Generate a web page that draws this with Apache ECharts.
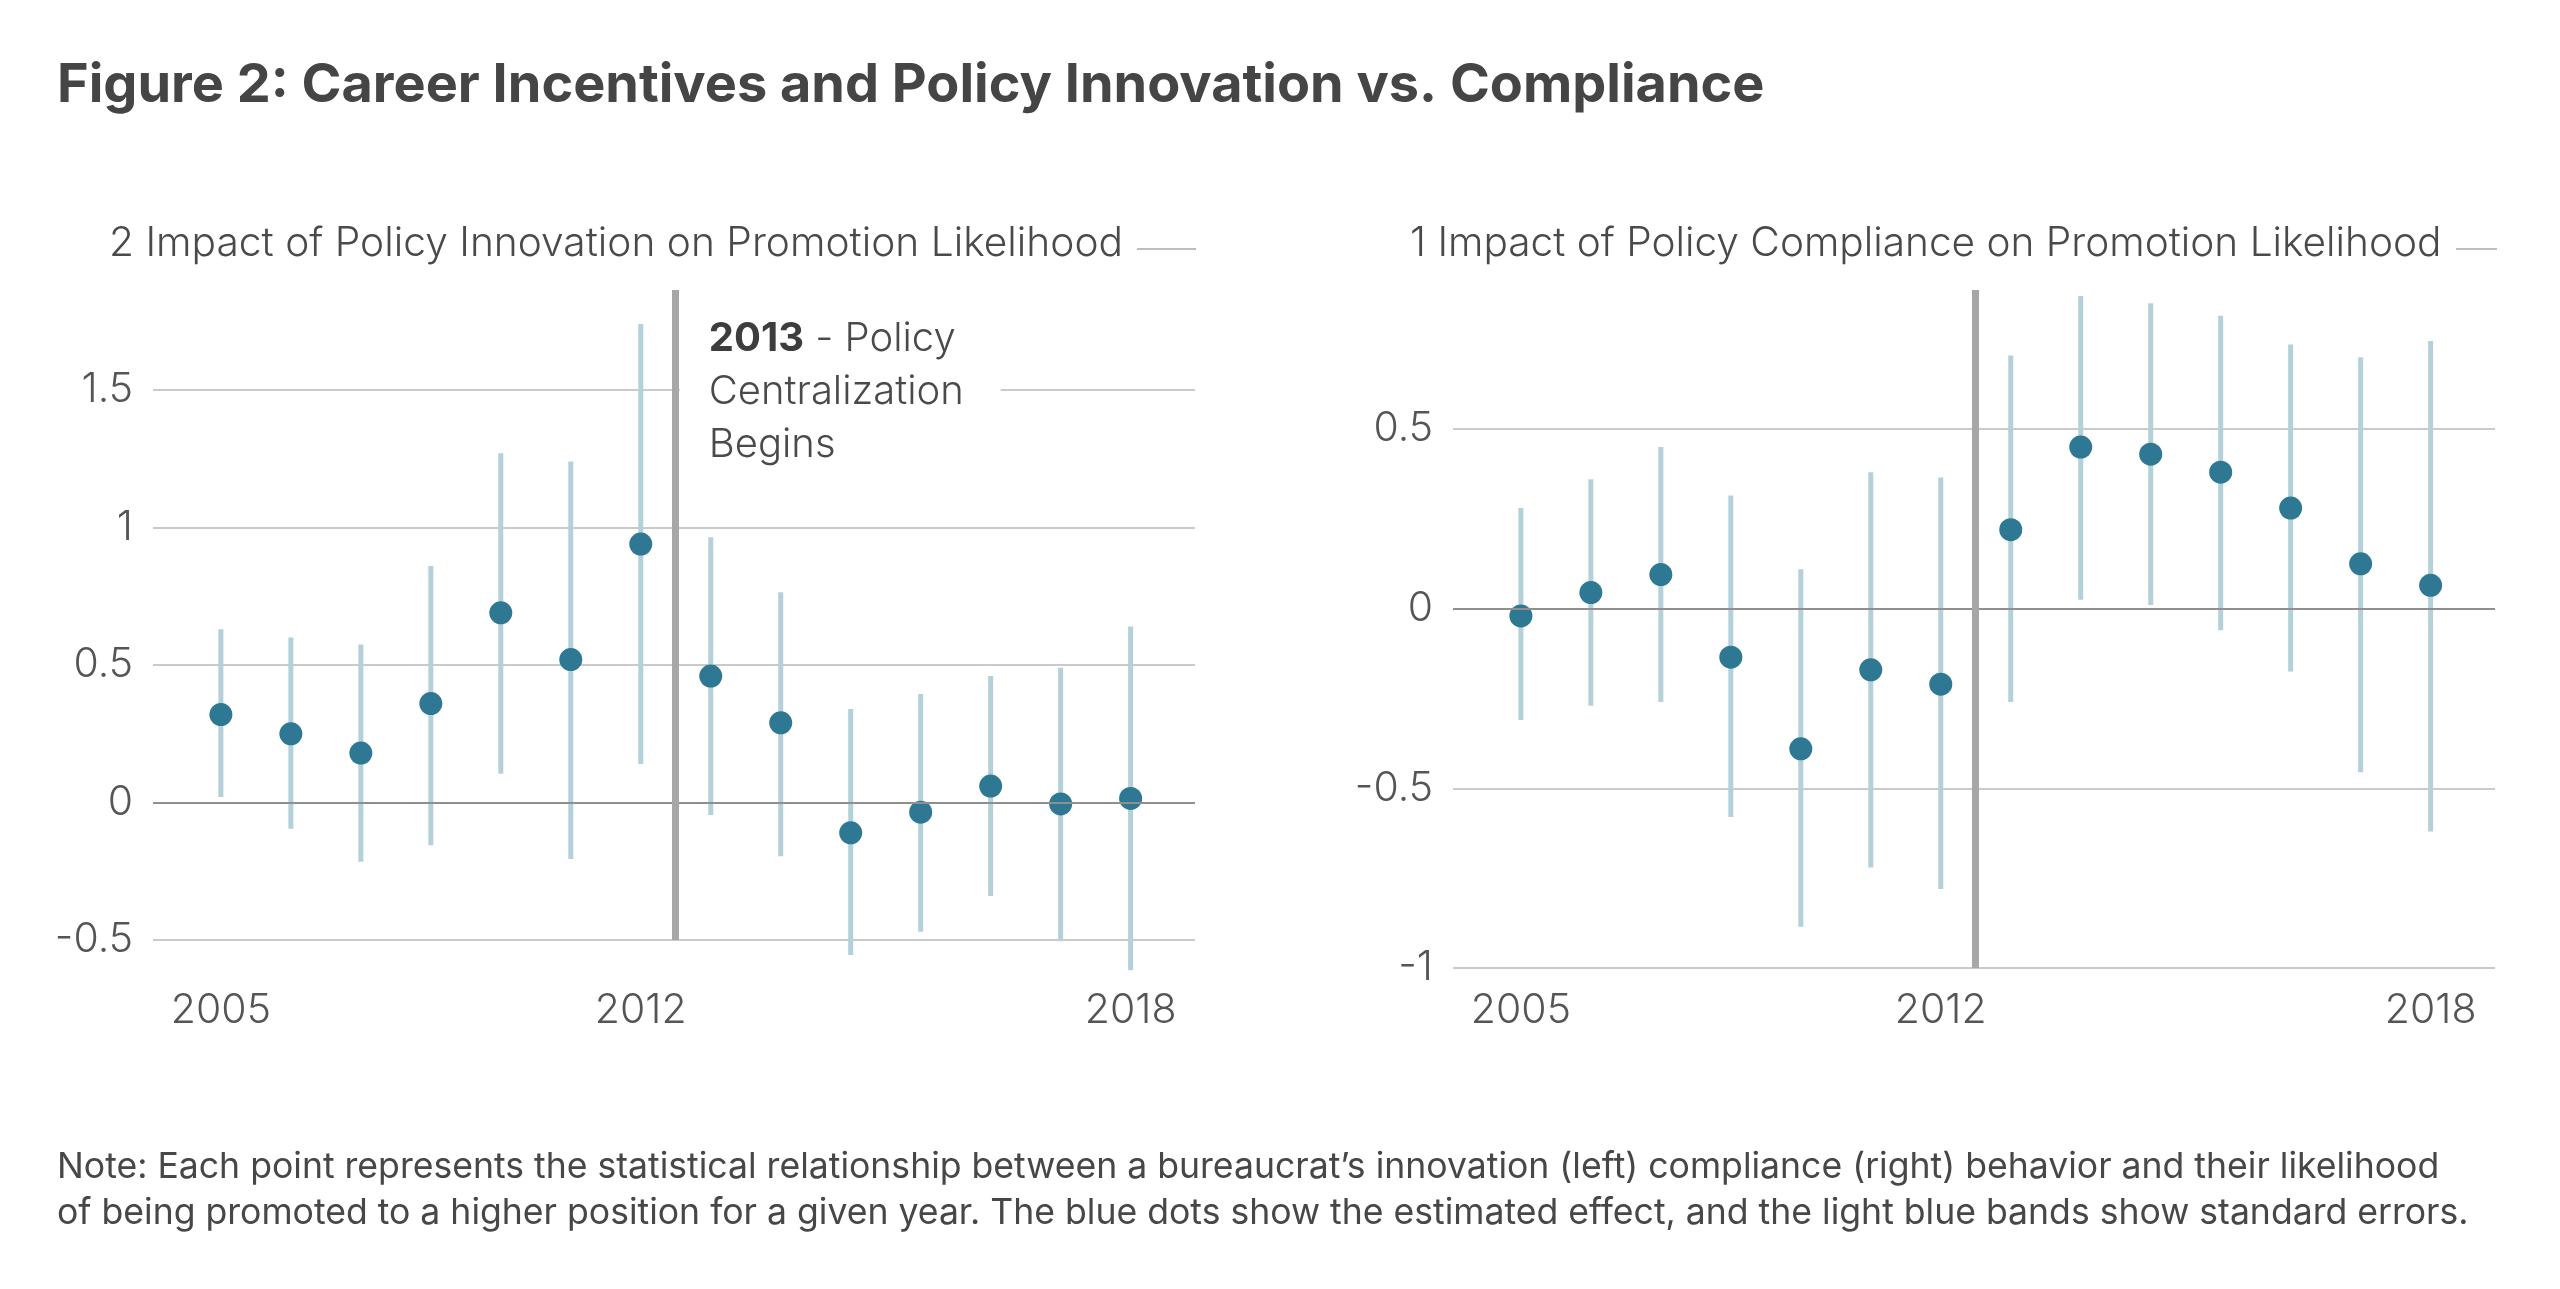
<!DOCTYPE html>
<html>
<head>
<meta charset="utf-8">
<script src="https://cdn.jsdelivr.net/npm/echarts@6/dist/echarts.min.js"></script>
<style>
html,body{margin:0;padding:0;background:#ffffff;}
#chart{width:2560px;height:1289px;}
</style>
</head>
<body>
<div id="chart"></div>
<script>
// ---------- data ----------
const years = [2005, 2006, 2007, 2008, 2009, 2010, 2011, 2012, 2013, 2014, 2015, 2016, 2017, 2018];

// Left panel: impact of policy innovation
const innovEst = [0.32, 0.25, 0.18, 0.36, 0.69, 0.52, 0.94, 0.46, 0.29, -0.11, -0.035, 0.06, -0.005, 0.015];
const innovLo  = [0.02, -0.095, -0.215, -0.155, 0.105, -0.205, 0.14, -0.045, -0.195, -0.555, -0.47, -0.34, -0.505, -0.61];
const innovHi  = [0.63, 0.60, 0.575, 0.86, 1.27, 1.24, 1.74, 0.965, 0.765, 0.34, 0.395, 0.46, 0.49, 0.64];

// Right panel: impact of policy compliance
const complEst = [-0.02, 0.045, 0.095, -0.135, -0.39, -0.17, -0.21, 0.22, 0.45, 0.43, 0.38, 0.28, 0.125, 0.065];
const complLo  = [-0.31, -0.27, -0.26, -0.58, -0.885, -0.72, -0.78, -0.26, 0.025, 0.01, -0.06, -0.175, -0.455, -0.62];
const complHi  = [0.28, 0.36, 0.45, 0.315, 0.11, 0.38, 0.365, 0.705, 0.87, 0.85, 0.815, 0.735, 0.70, 0.745];

// tick labels
const xTickYears  = [2005, 2011, 2018];
const xTickLabels = ['2005', '2012', '2018'];
const innovYRange = [-0.5, 1.864];
const complYRange = [-1, 0.887];
const yStep = 0.5;
const breakAt = 2011.5;   // vertical reference line

const titleText = 'Figure 2: Career Incentives and Policy Innovation vs. Compliance';
const leftTitle = '2 Impact of Policy Innovation on Promotion Likelihood';
const rightTitle = '1 Impact of Policy Compliance on Promotion Likelihood';
const noteLines = [
  'Note: Each point represents the statistical relationship between a bureaucrat\u2019s innovation (left) compliance (right) behavior and their likelihood',
  'of being promoted to a higher position for a given year. The blue dots show the estimated effect, and the light blue bands show standard errors.'
];

// ---------- styles ----------
const FONT = 'Inter, "Open Sans", Lato, sans-serif';
const DOT = '#2e7893';
const BAR = '#b4d1da';
const GRID = '#cacaca';
const ZERO = '#8f8f8f';
const VLINE = '#a7a7a7';
const TXT = '#4a4a4a';

const chart = echarts.init(document.getElementById('chart'), null, {renderer: 'canvas'});

function xAxisCfg(gi, margin) {
  return {
    type: 'value', gridIndex: gi, min: 2004.03, max: 2018.92,
    axisLine: {show: false}, axisTick: {show: false}, splitLine: {show: false},
    axisLabel: {
      customValues: xTickYears,
      formatter: v => { const i = xTickYears.indexOf(v); return i >= 0 ? xTickLabels[i] : ''; },
      margin: margin, fontFamily: FONT, fontWeight: 300, fontSize: 41, color: '#555'
    }
  };
}
function yAxisCfg(gi, range) {
  return {
    type: 'value', gridIndex: gi, min: range[0], max: range[1], interval: yStep,
    axisLine: {show: false}, axisTick: {show: false},
    splitLine: {show: true, showMaxLine: false, lineStyle: {color: GRID, width: 2}},
    axisLabel: {
      showMaxLabel: false, margin: 20,
      formatter: v => (Math.abs(v / yStep - Math.round(v / yStep)) < 1e-6 ? String(v) : ''),
      fontFamily: FONT, fontWeight: 300, fontSize: 41, color: '#555'
    }
  };
}
function errorSeries(gi, lo, hi) {
  return {
    type: 'custom', xAxisIndex: gi, yAxisIndex: gi, z: 3, clip: false,
    data: years.map((y, i) => [y, lo[i], hi[i]]),
    encode: {x: 0, y: [1, 2]},
    renderItem: (params, api) => {
      const a = api.coord([api.value(0), api.value(1)]);
      const b = api.coord([api.value(0), api.value(2)]);
      return {type: 'line', shape: {x1: a[0], y1: a[1], x2: b[0], y2: b[1]},
              style: {stroke: BAR, lineWidth: 5}};
    },
    markLine: {
      silent: true, symbol: 'none', label: {show: false}, animation: false,
      data: [
        {yAxis: 0, lineStyle: {color: ZERO, width: 2, type: 'solid'}},
        {xAxis: breakAt, lineStyle: {color: VLINE, width: 7, type: 'solid'}}
      ]
    }
  };
}
function dotSeries(gi, est) {
  return {
    type: 'scatter', xAxisIndex: gi, yAxisIndex: gi, z: 4, clip: false,
    symbol: 'circle', symbolSize: 23,
    itemStyle: {color: DOT, opacity: 1},
    data: years.map((y, i) => [y, est[i]])
  };
}

const option = {
  backgroundColor: '#ffffff',
  animation: false,
  grid: [
    {left: 153, top: 290, width: 1042, height: 650},
    {left: 1453, top: 290, width: 1042, height: 678}
  ],
  xAxis: [xAxisCfg(0, 50), xAxisCfg(1, 22)],
  yAxis: [yAxisCfg(0, innovYRange), yAxisCfg(1, complYRange)],
  series: [
    errorSeries(0, innovLo, innovHi), dotSeries(0, innovEst),
    errorSeries(1, complLo, complHi), dotSeries(1, complEst)
  ]
};
chart.setOption(option);

// ---------- texts / decorations anchored to the axes ----------
const lp = chart.convertToPixel({xAxisIndex: 0, yAxisIndex: 0}, [breakAt, innovYRange[1]]);
const graphics = [
  {type: 'text', x: 57, y: 86, z: 10,
   style: {text: titleText, fontFamily: FONT, fontWeight: 700, fontSize: 54, fill: '#454545', verticalAlign: 'middle'}},
  {type: 'text', x: 109, y: 244, z: 10,
   style: {text: leftTitle, fontFamily: FONT, fontWeight: 300, fontSize: 40.7, fill: TXT, verticalAlign: 'middle'}},
  {type: 'line', z: 10, shape: {x1: 1137, y1: 249, x2: 1196, y2: 249}, style: {stroke: '#bdbdbd', lineWidth: 2}},
  {type: 'text', x: 1410, y: 244, z: 10,
   style: {text: rightTitle, fontFamily: FONT, fontWeight: 300, fontSize: 40.6, fill: TXT, verticalAlign: 'middle'}},
  {type: 'line', z: 10, shape: {x1: 2456, y1: 249, x2: 2497, y2: 249}, style: {stroke: '#bdbdbd', lineWidth: 2}},
  {type: 'text', x: lp[0] + 4, y: lp[1] + 22, z: 10,
   style: {
     text: '{b|2013} - Policy\nCentralization\nBegins',
     fontFamily: FONT, fontWeight: 300, fontSize: 40, lineHeight: 53, fill: TXT,
     backgroundColor: '#ffffff', padding: [0, 37, 0, 29],
     rich: {b: {fontFamily: FONT, fontWeight: 700, fontSize: 40, lineHeight: 53, fill: '#3d3d3d'}}
   }},
  {type: 'text', x: 57, y: 1167, z: 10,
   style: {text: noteLines[0], fontFamily: FONT, fontWeight: 400, fontSize: 35.6, fill: '#474747', verticalAlign: 'middle'}},
  {type: 'text', x: 57, y: 1213, z: 10,
   style: {text: noteLines[1], fontFamily: FONT, fontWeight: 400, fontSize: 35.6, fill: '#474747', verticalAlign: 'middle'}}
];
chart.setOption({graphic: graphics});
</script>
</body>
</html>
